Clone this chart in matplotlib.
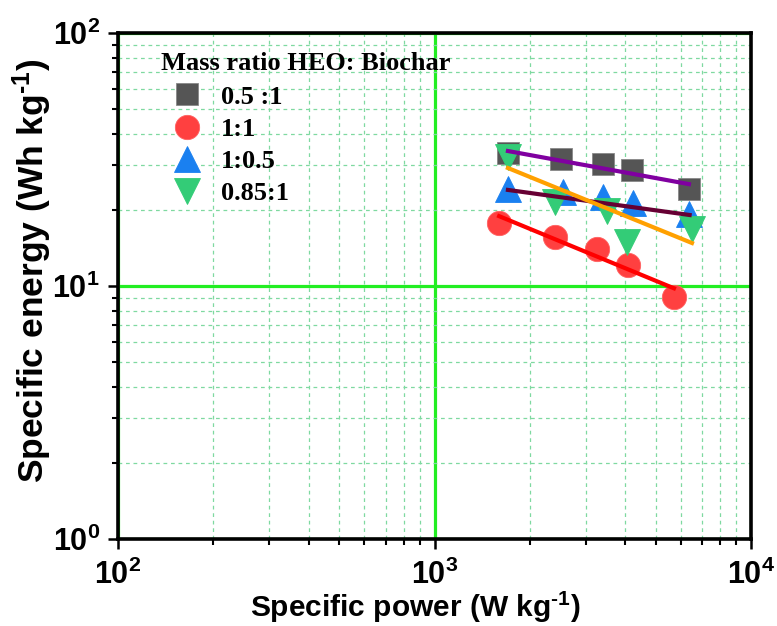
import matplotlib
matplotlib.use('Agg')
import matplotlib.pyplot as plt
from matplotlib.ticker import LogLocator, NullFormatter

plt.rcParams['font.family'] = ['Liberation Sans', 'DejaVu Sans']
plt.rcParams['font.weight'] = 'bold'
plt.rcParams['mathtext.fontset'] = 'custom'
plt.rcParams['mathtext.rm'] = 'Liberation Sans:bold'
plt.rcParams['mathtext.it'] = 'Liberation Sans:bold'
plt.rcParams['mathtext.bf'] = 'Liberation Sans:bold'

# data
labels = ['0.5 :1', '1:1', '1:0.5', '0.85:1']
power_sq = [1706, 2511, 3406, 4207, 6368]
energy_sq = [33.6, 31.8, 30.4, 28.7, 24.2]
power_ci = [1600, 2403, 3262, 4087, 5710]
energy_ci = [17.7, 15.6, 14.0, 12.1, 9.05]
power_up = [1706, 2550, 3406, 4250, 6368]
energy_up = [24.2, 23.5, 22.5, 21.3, 19.3]
power_dn = [1706, 2403, 3509, 4057, 6510]
energy_dn = [32.4, 21.5, 19.8, 14.9, 16.8]

# fitted lines (end points)
fit_sq_x, fit_sq_y = [1706, 6368], [34.2, 25.3]
fit_ci_x, fit_ci_y = [1600, 5710], [18.9, 9.8]
fit_up_x, fit_up_y = [1706, 6400], [24.0, 19.1]
fit_dn_x, fit_dn_y = [1706, 6510], [29.3, 14.8]

fig = plt.figure(figsize=(7.77, 6.26), dpi=100)
ax = fig.add_axes([0.152, 0.139, 0.8145, 0.808])

ax.set_xscale('log')
ax.set_yscale('log')
ax.set_xlim(100, 10000)
ax.set_ylim(1, 100)

ax.grid(True, which='major', color='#22ee22', lw=2.3, ls='-', zorder=0)
ax.grid(True, which='minor', color='#7fd9a0', lw=0.9, ls=(0, (3, 3)), zorder=0)
ax.set_axisbelow(True)

ax.plot(power_sq, energy_sq, 's', color='#555555', mec='#888888', mew=0.6, ms=16, label=labels[0], zorder=3)
ax.plot(power_ci, energy_ci, 'o', color='#ff4040', mec='#ff6060', mew=0.6, ms=17.5, label=labels[1], zorder=3)
ax.plot(power_up, energy_up, '^', color='#1a80f0', mec='#1a80f0', mew=0.6, ms=19, label=labels[2], zorder=3)
ax.plot(power_dn, energy_dn, 'v', color='#33cc77', mec='#33cc77', mew=0.6, ms=19, label=labels[3], zorder=3)

ax.plot(fit_sq_x, fit_sq_y, color='#8000a0', lw=3, zorder=4)
ax.plot(fit_ci_x, fit_ci_y, color='#ff0000', lw=3, zorder=4)
ax.plot(fit_up_x, fit_up_y, color='#660033', lw=3, zorder=4)
ax.plot(fit_dn_x, fit_dn_y, color='#ffa000', lw=3, zorder=4)

ax.xaxis.set_minor_locator(LogLocator(base=10, subs=range(2, 10)))
ax.yaxis.set_minor_locator(LogLocator(base=10, subs=range(2, 10)))
ax.xaxis.set_minor_formatter(NullFormatter())
ax.yaxis.set_minor_formatter(NullFormatter())

for s in ax.spines.values():
    s.set_linewidth(2.6)
ax.tick_params(which='major', direction='out', length=7, width=1.8, labelsize=22)
ax.tick_params(axis='x', which='major', pad=8)
ax.tick_params(axis='y', which='major', pad=6)
ax.tick_params(which='minor', direction='out', length=4, width=1.5)

ax.set_xlabel(r'Specific power (W kg$^{\text{-1}}$)', fontsize=21.5, fontweight='bold')
ax.set_ylabel(r'Specific energy (Wh kg$^{\text{-1}}$)', fontsize=25.5, fontweight='bold')
ax.xaxis.set_label_coords(0.469, -0.1)
ax.yaxis.set_label_coords(-0.102, 0.53)

leg = ax.legend(title='Mass ratio HEO: Biochar', loc='upper left', bbox_to_anchor=(0.067, 0.962),
                frameon=False, borderpad=0, borderaxespad=0, labelspacing=0.33,
                handlelength=2.0, handletextpad=0.3, alignment='left',
                prop={'family': 'Liberation Serif', 'weight': 'bold', 'size': 19},
                title_fontproperties={'family': 'Liberation Serif', 'weight': 'bold', 'size': 19})
leg._legend_box.sep = 7

fig.savefig('out.png', dpi=100)
